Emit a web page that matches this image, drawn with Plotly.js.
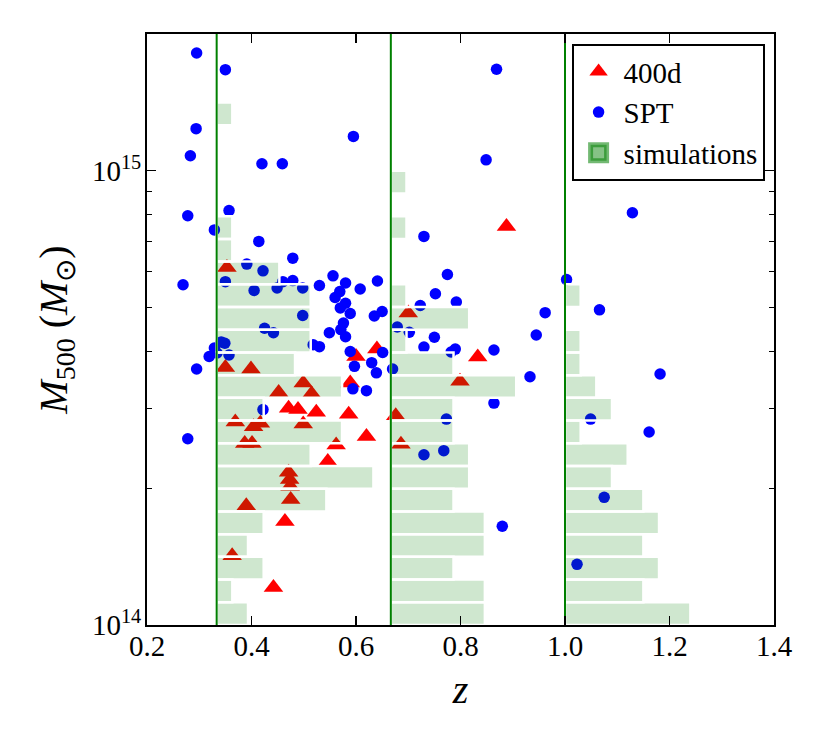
<!DOCTYPE html>
<html>
<head>
<meta charset="utf-8">
<script src="https://cdn.plot.ly/plotly-3.0.1.min.js"></script>
<style>html,body{margin:0;padding:0;background:#fff;}#chart{width:830px;height:747px;}</style>
</head>
<body>
<div id="chart"></div>
<script>
// ---- data (M in units of 1e14 M_sun) ----
const z400d = [0.353,0.350,0.399,0.499,0.452,0.515,0.600,0.640,0.589,0.471,0.489,0.524,0.586,0.369,0.404,0.417,0.499,0.676,0.620,0.387,0.401,0.562,0.546,0.471,0.473,0.474,0.475,0.390,0.464,0.363,0.442,0.888,0.700,0.833,0.799,0.686];
const m400d = [6.12,3.69,3.66,3.41,3.25,3.23,3.90,4.05,3.41,3.00,2.98,2.94,2.91,2.80,2.73,2.78,2.77,2.89,2.60,2.51,2.51,2.49,2.29,2.17,2.09,2.02,1.89,1.83,1.69,1.42,1.21,7.54,4.86,3.89,3.44,2.50];

const zSPT = [0.295,0.350,0.294,0.595,0.283,0.420,0.459,0.278,0.357,0.329,0.414,0.479,0.391,0.422,0.269,0.350,0.405,0.460,0.479,0.449,0.498,0.530,0.556,0.580,0.608,0.641,0.569,0.560,0.580,0.570,0.589,0.498,0.635,0.650,0.679,0.425,0.442,0.576,0.549,0.571,0.580,0.518,0.530,0.342,0.349,0.329,0.334,0.319,0.357,0.295,0.589,0.597,0.651,0.630,0.639,0.670,0.594,0.620,0.422,0.278,0.730,0.775,0.752,0.723,0.792,0.702,0.750,0.730,0.962,0.945,0.864,0.782,0.790,0.933,1.003,0.849,0.869,0.864,0.773,0.730,0.768,0.880,1.023,1.066,1.182,1.049,1.161,1.075,1.129];
const mSPT = [18.16,16.69,12.38,11.90,10.79,10.36,10.36,7.96,8.17,7.41,6.99,6.42,6.23,6.02,5.61,5.70,5.45,5.70,5.73,5.52,5.52,5.59,5.87,5.66,5.49,5.72,5.42,5.26,5.11,4.99,4.85,4.80,4.79,4.90,4.53,4.50,4.40,4.62,4.40,4.47,4.31,4.14,4.10,4.20,4.17,4.07,3.97,3.90,3.93,3.66,4.00,3.71,3.98,3.78,3.59,3.66,3.31,3.28,2.98,2.57,7.17,5.91,5.36,5.05,5.14,4.41,4.30,4.09,4.87,4.35,4.03,3.99,4.05,3.52,5.76,10.57,16.73,3.08,2.84,2.37,2.42,1.65,1.36,4.94,3.57,2.84,2.66,1.91,8.08];

// simulation histograms: counts per 0.05-dex mass bin starting at log10 M = 14
const redshiftBinEdges = [1/3, 2/3, 1.0];
const massBinStartDex = 14.0;
const massBinWidthDex = 0.05;
const simCountsLowZ  = [2,1,3,2,3,7,10,6,8,3,8,5,6,6,6,4,1,1,0,0,0,0,1];
const simCountsMidZ  = [6,6,4,6,6,4,5,5,4,4,8,4,1,5,1,0,0,1,0,1];
const simCountsHighZ = [8,5,6,5,6,5,3,4,1,3,2,1,1,0,1];
const countToRedshift = 0.03; // horizontal length of one count, in z units

const yMajorTicks = [1e14, 1e15];
const yMajorLabels = ['10<sup>14</sup>', '10<sup>15</sup>'];
const yMinorTicks = [2e14,3e14,4e14,5e14,6e14,7e14,8e14,9e14,2e15];
const yRangeMax = 2e15, yRangeMin = 1e14;

// ---- build traces ----
const unit = 1e14;
const FONT = '"Liberation Serif", "Times New Roman", Times, serif';

const tri = {
  type: 'scatter', mode: 'markers', name: '400d',
  x: z400d, y: m400d.map(v => v * unit),
  marker: {symbol: 'triangle-up', size: 17, color: '#ff0000'}
};
const spt = {
  type: 'scatter', mode: 'markers', name: 'SPT',
  x: zSPT, y: mSPT.map(v => v * unit),
  marker: {symbol: 'circle', size: 11.5, color: '#0000ff'}
};

const hx = [], hy = [];
[simCountsLowZ, simCountsMidZ, simCountsHighZ].forEach((counts, g) => {
  const z0 = redshiftBinEdges[g];
  counts.forEach((c, i) => {
    if (c <= 0) return;
    const lo = Math.pow(10, massBinStartDex + massBinWidthDex * i);
    const hi = Math.pow(10, massBinStartDex + massBinWidthDex * (i + 1));
    const z1 = z0 + c * countToRedshift;
    hx.push(z0, z1, z1, z0, z0, null);
    hy.push(lo, lo, hi, hi, lo, null);
  });
});
const sims = {
  type: 'scatter', mode: 'lines', name: 'simulations', showlegend: false,
  x: hx, y: hy, fill: 'toself', fillcolor: 'rgba(0,128,0,0.19)',
  line: {color: '#ffffff', width: 2.5}, hoverinfo: 'skip'
};

const lx = [], ly = [];
redshiftBinEdges.forEach(z => { lx.push(z, z, null); ly.push(yRangeMin, yRangeMax, null); });
const vlines = {
  type: 'scatter', mode: 'lines', showlegend: false,
  x: lx, y: ly, line: {color: '#008000', width: 2}, hoverinfo: 'skip'
};

const simLegend = {
  type: 'scatter', mode: 'markers', name: 'simulations',
  x: [null], y: [null],
  marker: {symbol: 'square', size: 16, color: 'rgba(0,128,0,0.48)', line: {color: 'rgba(0,128,0,0.55)', width: 5}}
};

const layout = {
  width: 830, height: 747,
  margin: {l: 147, r: 56, t: 34, b: 122, pad: 0},
  paper_bgcolor: '#ffffff', plot_bgcolor: '#ffffff',
  font: {family: FONT, color: '#000000'},
  showlegend: true,
  legend: {
    x: 0.985, y: 0.983, xanchor: 'right', yanchor: 'top',
    bgcolor: '#ffffff', bordercolor: '#000000', borderwidth: 2,
    font: {family: FONT, size: 29, color: '#000000'},
    itemsizing: 'trace', itemwidth: 40, tracegroupgap: 0
  },
  xaxis: {
    range: [0.2, 1.4], tickmode: 'linear', tick0: 0.2, dtick: 0.2, tickformat: '.1f',
    ticks: 'inside', ticklen: 9, tickwidth: 1.2, tickcolor: '#000',
    showline: true, linewidth: 2, linecolor: '#000', mirror: 'ticks',
    showgrid: false, zeroline: false,
    tickfont: {family: FONT, size: 29, color: '#000'},
    ticklabelstandoff: -6,
    title: {text: '<i>z</i>', font: {family: FONT, size: 40, color: '#000'}, standoff: 14}
  },
  yaxis: {
    type: 'log', range: [Math.log10(yRangeMin), Math.log10(yRangeMax)],
    tickmode: 'array', tickvals: yMajorTicks, ticktext: yMajorLabels,
    ticks: 'inside', ticklen: 9, tickwidth: 1.2, tickcolor: '#000',
    minor: {tickmode: 'array', tickvals: yMinorTicks, ticks: 'inside', ticklen: 5, tickwidth: 1, tickcolor: '#000', showgrid: false},
    showline: true, linewidth: 2, linecolor: '#000', mirror: 'ticks',
    showgrid: false, zeroline: false,
    tickfont: {family: FONT, size: 29, color: '#000'},
    ticklabelstandoff: -2,
    title: {text: '<i>M</i><sub>500</sub> (<i>M</i><sub>⊙</sub>)', font: {family: FONT, size: 40, color: '#000'}, standoff: 12}
  }
};

Plotly.newPlot('chart', [tri, spt, sims, vlines, simLegend], layout, {displayModeBar: false, staticPlot: true});
</script>
</body>
</html>
